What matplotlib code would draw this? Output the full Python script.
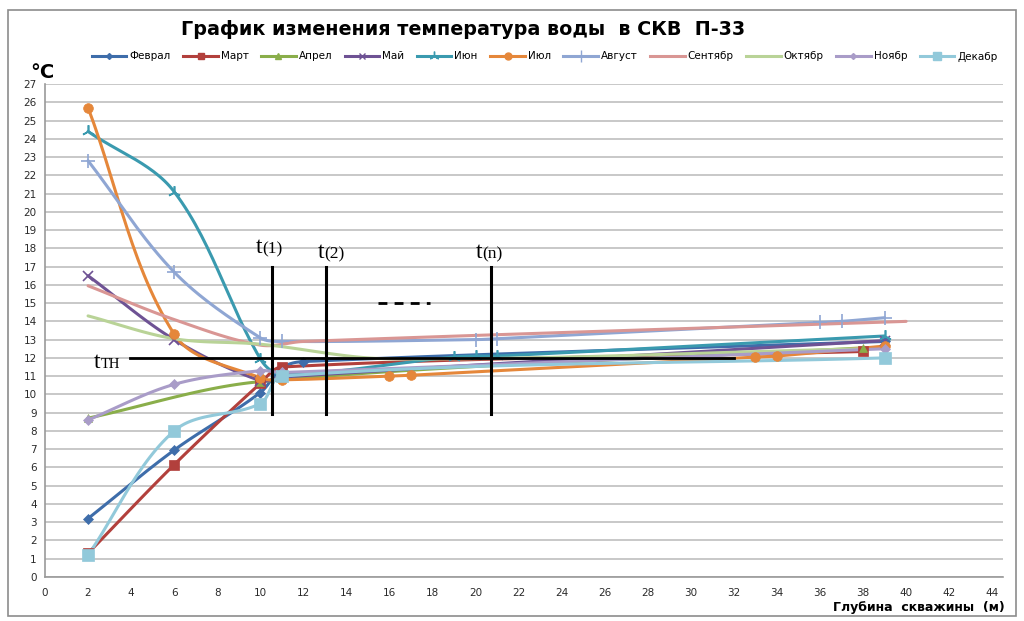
import numpy as np
import matplotlib
matplotlib.use("Agg")
import matplotlib.pyplot as plt
from matplotlib.patches import Rectangle

# ---------------- data ----------------
months = ["Феврал", "Март", "Апрел", "Май", "Июн", "Июл", "Август",
          "Сентябр", "Октябр", "Ноябр", "Декабр"]

feb_x = [2, 6, 10, 11, 12, 39]
feb_y = [3.2, 6.95, 10.1, 11.45, 11.8, 12.9]
mar_x = [2, 6, 10, 11, 38]
mar_y = [1.3, 6.15, 10.6, 11.5, 12.35]
apr_x = [2, 10, 38]
apr_y = [8.7, 10.7, 12.55]
may_x = [2, 6, 10, 11, 39]
may_y = [16.5, 13.0, 10.75, 10.95, 12.95]
jun_x = [2, 6, 10, 11, 19, 20, 21, 39]
jun_y = [24.4, 21.1, 11.95, 11.1, 12.05, 12.1, 12.1, 13.2]
jul_x = [2, 6, 10, 11, 16, 17, 33, 34, 39]
jul_y = [25.7, 13.3, 10.9, 10.8, 11.0, 11.05, 12.05, 12.1, 12.65]
aug_x = [2, 6, 10, 11, 20, 21, 36, 37, 39]
aug_y = [22.8, 16.7, 13.1, 12.9, 13.0, 13.05, 13.95, 14.0, 14.2]
sep_x = [2, 6, 10, 12, 40]
sep_y = [15.95, 14.1, 12.7, 12.9, 14.0]
oct_x = [2, 6, 10, 16, 38]
oct_y = [14.3, 13.05, 12.75, 11.95, 12.5]
nov_x = [2, 6, 10, 11, 39]
nov_y = [8.6, 10.55, 11.3, 11.2, 12.5]
dec_x = [2, 6, 10, 11, 39]
dec_y = [1.2, 8.0, 9.5, 11.0, 12.0]

series_x = [feb_x, mar_x, apr_x, may_x, jun_x, jul_x, aug_x, sep_x, oct_x, nov_x, dec_x]
series_y = [feb_y, mar_y, apr_y, may_y, jun_y, jul_y, aug_y, sep_y, oct_y, nov_y, dec_y]

colors = ["#3E6DAA", "#B2403C", "#8AAE4A", "#6E5294", "#3A9AAF", "#E5873A",
          "#8FA6D3", "#D99694", "#B9D397", "#A99CC8", "#92C9DA"]
markers = ["D", "s", "^", "x", (3, 2, 0), "o", "+", None, None, "D", "s"]
msizes = [5, 7, 6, 7, 9, 7, 10, 0, 0, 5, 8]

x_ticks = list(range(0, 45, 2))
y_ticks = list(range(0, 28))

title = "График изменения температура воды  в СКВ  П-33"
x_label = "Глубина  скважины  (м)"
y_unit = "°C"

# annotation guide lines
t_lines_x = [10.55, 13.07, 20.7]
t_lines_y = [8.95, 17.0]
t_labels = ["(1)", "(2)", "(n)"]
t_label_x = [10.09, 12.98, 20.33]
t_label_y = [17.75, 17.45, 17.45]
tth_line_x = [3.95, 32.0]
tth_level = 12.0

PX_X, PX_Y = 21.5, 18.2  # approx pixels per data unit, for isotropic smoothing


def smooth(xs, ys, n=30):
    """Smoothed line (chord-weighted Bezier spline) through the data points."""
    p = np.column_stack([np.asarray(xs, float) * PX_X, np.asarray(ys, float) * PX_Y])
    m = len(p)
    if m < 3:
        return p[:, 0] / PX_X, p[:, 1] / PX_Y
    d = np.linalg.norm(np.diff(p, axis=0), axis=1)
    tang = np.zeros_like(p)
    for i in range(m):
        if i == 0:
            tang[i] = (p[1] - p[0]) / d[0]
        elif i == m - 1:
            tang[i] = (p[-1] - p[-2]) / d[-1]
        else:
            v = p[i + 1] - p[i - 1]
            tang[i] = v / np.linalg.norm(v)
    out = []
    for i in range(m - 1):
        p1, p2 = p[i], p[i + 1]
        c1 = p1 + tang[i] * d[i] / 3.0
        c2 = p2 - tang[i + 1] * d[i] / 3.0
        t = np.linspace(0, 1, n)[:, None]
        seg = ((1 - t) ** 3) * p1 + 3 * ((1 - t) ** 2) * t * c1 + 3 * (1 - t) * t ** 2 * c2 + t ** 3 * p2
        out.append(seg if i == 0 else seg[1:])
    out = np.vstack(out)
    return out[:, 0] / PX_X, out[:, 1] / PX_Y


fig = plt.figure(figsize=(10.24, 6.21), dpi=100)
ax = fig.add_axes([45 / 1024, 1 - 577 / 621, (1003 - 45) / 1024, (577 - 84) / 621])

# grid
for yv in y_ticks:
    ax.axhline(yv, color="#C4C4C4", lw=1.3, zorder=0)

handles = []
for i, name in enumerate(months):
    xs, ys = smooth(series_x[i], series_y[i])
    ax.plot(xs, ys, color=colors[i], lw=2.2, zorder=3, solid_capstyle="round")
    if markers[i] is not None:
        mew = 1.2 if markers[i] in ("x", "+", (3, 2, 0)) else 0.5
        ax.plot(series_x[i], series_y[i], linestyle="none", marker=markers[i],
                ms=msizes[i], color=colors[i], mec=colors[i], mew=mew, zorder=4)
    h, = ax.plot([], [], color=colors[i], lw=2.2, marker=markers[i],
                 ms=max(msizes[i] - 2, 0), mew=1.0)
    handles.append(h)

# guide lines
for xv in t_lines_x:
    ax.plot([xv, xv], t_lines_y, color="black", lw=2.2, zorder=5)
ax.plot(tth_line_x, [tth_level, tth_level], color="black", lw=2.0, zorder=5)
ax.plot([15.45, 17.9], [15.02, 15.02], color="black", lw=2.0,
        linestyle=(0, (3.2, 2.6)), zorder=5)

serif = ["Liberation Serif", "DejaVu Serif"]
for lab, lx, ly in zip(t_labels, t_label_x, t_label_y):
    ax.text(lx, ly, "t", fontsize=17, family=serif, ha="right", va="baseline", zorder=6)
    ax.text(lx, ly, lab, fontsize=12.5, family=serif, ha="left", va="baseline", zorder=6)
ax.text(2.56, 11.45, "t", fontsize=17, family=serif, ha="right", va="baseline", zorder=6)
ax.text(2.58, 11.42, "TH", fontsize=10.5, family=serif, ha="left", va="baseline", zorder=6)

ax.set_xlim(0, 44.5)
ax.set_ylim(0, 27)
ax.set_xticks(x_ticks)
ax.set_yticks(y_ticks)
ax.tick_params(axis="both", length=0, labelsize=7.5, colors="#2A2A2A")
ax.tick_params(axis="x", pad=8)
ax.tick_params(axis="y", pad=6)
for s in ["top", "right"]:
    ax.spines[s].set_visible(False)
for s in ["left", "bottom"]:
    ax.spines[s].set_color("#9A9A9A")
    ax.spines[s].set_linewidth(1.2)

fig.text(0.452, 0.953, title, fontsize=13.8, fontweight="bold", ha="center", va="center")
fig.text(0.030, 1 - 78 / 621, y_unit, fontsize=14, fontweight="bold", ha="left", va="baseline")
fig.text(0.981, 0.021, x_label, fontsize=9, fontweight="bold", ha="right", va="center")

fig.legend(handles, months, loc="center", bbox_to_anchor=(0.532, 0.909), ncol=11,
           frameon=False, fontsize=7.5, handlelength=3.3, handletextpad=0.3,
           columnspacing=1.2)

fig.patches.append(Rectangle((8 / 1024, 1 - 616 / 621), 1008 / 1024, 606 / 621,
                             transform=fig.transFigure, fill=False,
                             edgecolor="#8C8C8C", lw=1.2))

fig.savefig("out.png", dpi=100)
